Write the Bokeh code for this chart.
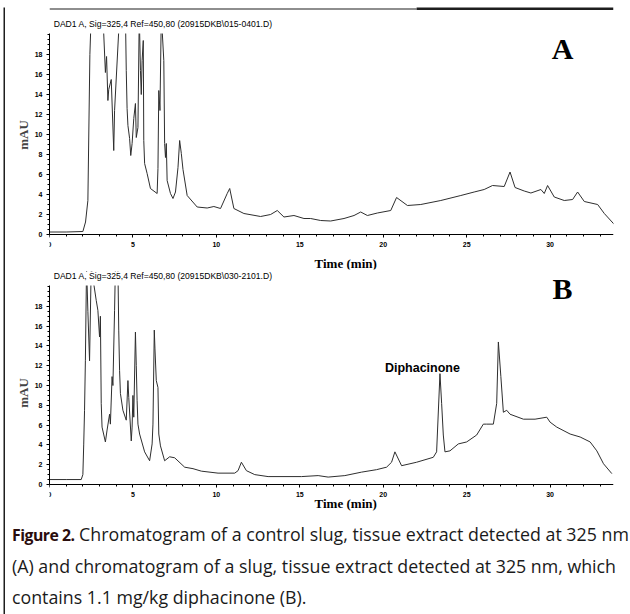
from bokeh.plotting import figure
from bokeh.models import Label, FixedTicker, Div, Range1d, BoxAnnotation, Spacer
from bokeh.layouts import column, row
from bokeh.embed import file_html
from bokeh.resources import INLINE

# ---- data ----
time_a = [0.0, 1.0, 2.0, 2.16, 2.3, 2.42, 2.5, 3.2, 3.35, 3.42,
          3.5, 3.55, 3.7, 3.85, 3.9, 4.2, 4.55, 4.6, 4.65, 4.7,
          4.8, 4.87, 4.95, 5.05, 5.15, 5.2, 5.3, 5.38, 5.45, 5.5,
          5.55, 5.62, 5.65, 5.7, 5.85, 6.05, 6.45, 6.5, 6.55, 6.62,
          6.7, 6.85, 6.9, 6.95, 7.0, 7.05, 7.25, 7.4, 7.55, 7.7,
          7.8, 7.9, 8.0, 8.25, 8.85, 9.45, 9.85, 10.25, 10.65, 10.8,
          11.05, 11.65, 12.65, 13.25, 13.65, 14.05, 14.65, 15.25, 15.65, 16.25,
          16.85, 17.65, 18.25, 18.65, 19.05, 19.65, 20.45, 20.8, 21.45, 22.25,
          23.45, 24.65, 25.45, 26.05, 26.55, 27.25, 27.6, 27.9, 28.45, 28.85,
          29.45, 29.65, 29.85, 30.25, 30.85, 31.35, 31.65, 32.05, 32.85, 33.25,
          33.85]
mau_a = [0.25, 0.25, 0.3, 1.25, 3.4, 18.0, 22, 22, 16.2, 17.8,
         13.4, 14.5, 15.5, 8.4, 12.4, 22, 22, 16.4, 12.6, 10.9,
         9.6, 7.9, 9.1, 11.6, 13.1, 9.7, 10.7, 22, 16.4, 14.0,
         17.4, 19.4, 9.4, 7.1, 6.1, 4.6, 4.1, 6.6, 14.4, 12.4,
         22, 17.4, 9.1, 7.7, 9.1, 5.4, 4.1, 3.6, 4.25, 6.7,
         9.4, 8.1, 6.5, 3.9, 2.75, 2.65, 2.8, 2.6, 4.1, 4.6,
         2.6, 2.1, 1.8, 2.0, 2.4, 1.75, 1.9, 1.6, 1.6, 1.4,
         1.35, 1.6, 1.9, 2.25, 1.9, 2.15, 2.4, 3.7, 2.9, 3.0,
         3.4, 3.9, 4.25, 4.5, 4.9, 4.8, 6.25, 4.7, 4.35, 4.15,
         4.5, 4.1, 4.9, 3.75, 3.4, 3.5, 4.25, 3.3, 3.0, 2.1,
         1.0]

time_b = [0.0, 1.0, 1.9, 2.0, 2.05, 2.1, 2.15, 2.22, 2.3, 2.4,
          2.5, 2.8, 2.9, 3.0, 3.05, 3.1, 3.15, 3.35, 3.45, 3.6,
          3.65, 3.75, 3.8, 3.9, 3.95, 4.1, 4.15, 4.2, 4.25, 4.4,
          4.6, 4.7, 4.75, 4.9, 4.95, 5.0, 5.05, 5.15, 5.2, 5.25,
          5.3, 5.4, 5.7, 6.0, 6.15, 6.2, 6.28, 6.32, 6.4, 6.5,
          6.55, 6.65, 6.9, 7.2, 7.5, 8.1, 8.6, 9.1, 10.1, 11.1,
          11.3, 11.5, 11.8, 12.3, 13.1, 15.1, 16.1, 16.7, 17.7, 18.7,
          19.6, 20.2, 20.5, 20.7, 21.1, 22.0, 23.0, 23.2, 23.4, 23.5,
          23.6, 23.7, 24.0, 24.5, 25.0, 25.6, 26.0, 26.2, 26.6, 26.8,
          26.9, 27.05, 27.2, 27.4, 27.6, 28.4, 29.1, 29.8, 30.0, 30.4,
          31.2, 31.8, 32.4, 32.8, 33.2, 33.7]
mau_b = [0.5, 0.5, 0.5, 1.0, 4.0, 7.5, 12.5, 22, 17.5, 12.5,
         22, 18.6, 17.6, 14.9, 17.0, 8.2, 5.8, 4.3, 5.5, 7.1,
         6.1, 10.9, 10.0, 17.6, 22, 22, 15.6, 11.5, 9.2, 7.5,
         6.5, 10.5, 8.8, 4.4, 5.8, 9.0, 6.8, 15.4, 12.0, 8.5,
         6.1, 5.1, 3.3, 2.4, 4.1, 6.1, 15.6, 13.7, 10.5, 9.8,
         5.1, 3.9, 2.4, 2.8, 2.7, 1.75, 1.6, 1.35, 1.15, 1.15,
         1.4, 2.25, 1.4, 1.0, 0.8, 0.8, 0.9, 0.75, 0.9, 1.25,
         1.5, 1.75, 2.25, 3.3, 1.9, 2.25, 2.75, 3.3, 11.2, 8.2,
         5.0, 3.3, 3.4, 4.1, 4.3, 5.0, 6.1, 6.1, 6.1, 8.2,
         14.4, 10.9, 7.3, 7.5, 7.1, 6.6, 6.6, 6.8, 6.3, 5.8,
         5.1, 4.8, 4.3, 3.4, 2.1, 1.1]

x_ticks = [0, 5, 10, 15, 20, 25, 30]
y_ticks = [0, 2, 4, 6, 8, 10, 12, 14, 16, 18]
x_minor = [i for i in range(0, 34)]
y_minor = [i * 0.5 for i in range(0, 41)]
y_axis_top = 20.1

title_a = "DAD1 A, Sig=325,4 Ref=450,80 (20915DKB\\015-0401.D)"
title_b = "DAD1 A, Sig=325,4 Ref=450,80 (20915DKB\\030-2101.D)"
panel_a = "A"
panel_b = "B"
peak_name = "Diphacinone"
peak_pos = (22.35, 11.8)
x_title = "Time (min)"
y_title = "mAU"
caption_bold = "Figure 2."
caption_lines = [
    " Chromatogram of a control slug, tissue extract detected at 325 nm",
    "(A) and chromatogram of a slug, tissue extract detected at 325 nm, which",
    "contains 1.1 mg/kg diphacinone (B).",
]

TRACE = "#2e2e2e"
RULE = "#1e1e1e"
X_END = 33.8


def make_panel(t, y, height, top, bottom, yr, title, letter, letter_y, xlab_y):
    p = figure(width=625, height=height, output_backend="svg", toolbar_location=None,
               x_range=Range1d(0, X_END), y_range=Range1d(*yr),
               min_border_left=44, min_border_right=17,
               min_border_top=top, min_border_bottom=bottom,
               background_fill_color=None, border_fill_color=None)
    p.outline_line_color = None
    p.grid.visible = False
    p.line(t, y, line_color=TRACE, line_width=1.0)
    # the off-scale part of the trace is not shown above the y axis
    p.add_layout(BoxAnnotation(bottom=y_axis_top, fill_color="white", fill_alpha=1.0,
                               line_color=None, level="glyph"))

    for ax in (p.xaxis[0], p.yaxis[0]):
        ax.axis_line_color = "black"
        ax.axis_line_width = 1
        ax.major_tick_in = 0
        ax.major_tick_out = 3
        ax.minor_tick_in = 0
        ax.minor_tick_out = 2
        ax.major_label_text_font = "Liberation Sans"
        ax.major_label_text_font_size = "7px"
        ax.major_label_text_font_style = "bold"
        ax.major_label_text_color = "black"
    p.xaxis[0].ticker = FixedTicker(ticks=x_ticks, minor_ticks=x_minor)
    p.yaxis[0].ticker = FixedTicker(ticks=y_ticks, minor_ticks=y_minor)
    p.xaxis[0].fixed_location = 0
    p.yaxis[0].bounds = (0, y_axis_top)
    p.xaxis[0].major_label_standoff = 4
    p.yaxis[0].major_label_standoff = 4
    p.yaxis[0].axis_label = y_title
    p.yaxis[0].axis_label_text_font = "Liberation Serif"
    p.yaxis[0].axis_label_text_font_style = "bold"
    p.yaxis[0].axis_label_text_font_size = "13px"
    p.yaxis[0].axis_label_standoff = 1

    p.add_layout(Label(x=0.25, y=21.1, text=title,
                       text_font="Liberation Sans", text_font_size="8.6px",
                       text_baseline="middle", text_align="left", text_color="black"))
    p.add_layout(Label(x=30.75, y=letter_y, text=letter,
                       text_font="Liberation Serif", text_font_style="bold",
                       text_font_size="30px", text_baseline="middle",
                       text_align="center", text_color="black"))
    p.add_layout(Label(x=17.75, y=xlab_y, text=x_title,
                       text_font="Liberation Serif", text_font_style="bold",
                       text_font_size="13px", text_baseline="middle",
                       text_align="center", text_color="black"))
    return p


# panel A fills page rows 0..271 (its frame starts at the page top)
pa = make_panel(time_a, mau_a, 271, 0, 2, (-3.5, 23.4), title_a, panel_a, 18.6, -2.9)
# top rule of the figure box, drawn at the top of panel A
pa.add_layout(BoxAnnotation(bottom=22.5, top=22.6, right=22.0, fill_color=RULE,
                            fill_alpha=1.0, line_color=None))
pa.add_layout(BoxAnnotation(bottom=22.45, top=22.7, left=22.0, fill_color=RULE,
                            fill_alpha=1.0, line_color=None))

pb = make_panel(time_b, mau_b, 245, 0, 2, (-3.03, 21.52), title_b, panel_b, 19.8, -1.9)
pb.add_layout(Label(x=peak_pos[0], y=peak_pos[1], text=peak_name,
                    text_font="Liberation Sans", text_font_style="bold",
                    text_font_size="12.5px", text_baseline="middle",
                    text_align="center", text_color="black"))

caption_html = (
    '<div style="font-family:\'Open Sans\'; font-size:17.8px; line-height:31px; '
    'color:#1a1a1a; white-space:nowrap; padding:3px 0 0 7px;">'
    '<span style="font-weight:bold; font-size:15.8px; letter-spacing:-0.5px; color:#2a0d0d;">'
    + caption_bold + '</span>'
    + caption_lines[0] + '<br>' + caption_lines[1] + '<br>' + caption_lines[2] + '</div>'
)
cap = Div(text=caption_html, width=625, height=98, margin=(0, 0, 0, 0))

left_rule = figure(width=2, height=607, output_backend="svg", toolbar_location=None,
                   min_border=0, x_axis_type=None, y_axis_type=None,
                   background_fill_color=RULE, border_fill_color=RULE)
left_rule.outline_line_color = None
left_rule.grid.visible = False

layout = row(
    Spacer(width=3, height=614),
    column(Spacer(width=2, height=7), left_rule, spacing=0),
    column(pa, pb, cap, spacing=0),
    spacing=0,
)

open("out.html", "w").write(file_html(layout, INLINE))
